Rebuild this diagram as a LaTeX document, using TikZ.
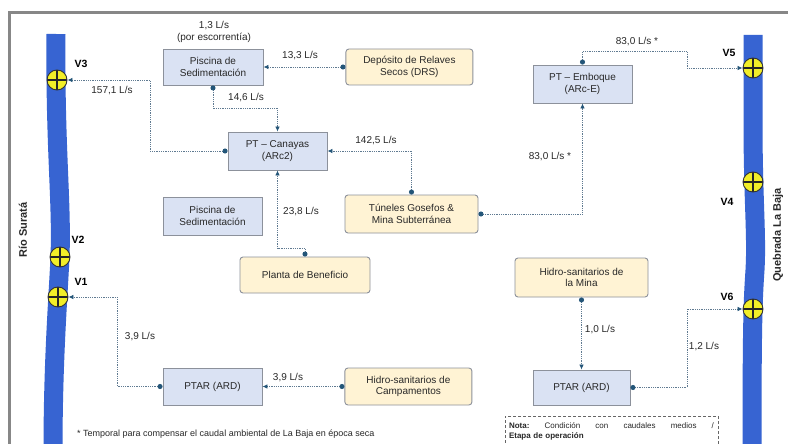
\documentclass[tikz,border=0pt]{standalone}
\usepackage{fontspec}
\setmainfont{Liberation Sans}
\usepackage{tikz}
\usetikzlibrary{positioning,arrows.meta,calc}
\definecolor{boxblue}{RGB}{218,226,243}
\definecolor{boxyellow}{RGB}{255,243,212}
\definecolor{boxedge}{RGB}{140,145,155}
\definecolor{flowgray}{RGB}{95,122,145}
\definecolor{flowdot}{RGB}{35,85,120}
\definecolor{riverblue}{RGB}{55,100,210}
\definecolor{valveyellow}{RGB}{242,238,40}
\definecolor{textgray}{RGB}{40,40,40}
\definecolor{framegray}{RGB}{135,135,135}
\tikzset{
  blue-node/.style={draw=boxedge, line width=0.9pt, fill=boxblue, minimum width=99pt,
    minimum height=37pt, font=\fontsize{10}{11.5}\selectfont, align=center,
    text=textgray, inner sep=2pt},
  yellow-node/.style={blue-node, fill=boxyellow, rounded corners=3pt},
  flow-arrow/.style={{Circle[length=5pt, color=flowdot]}-{Latex[length=5pt, width=4.5pt, color=flowdot]},
    line width=0.8pt, draw=flowgray, densely dotted},
  flow-label/.style={font=\fontsize{10}{12}\selectfont, text=textgray, inner sep=1pt, align=center},
  valve-node/.style={circle, draw=black!80, fill=valveyellow, minimum size=20pt, inner sep=0pt,
    line width=0.9pt, path picture={
      \draw[black!85, line width=1.2pt]
        (path picture bounding box.north) -- (path picture bounding box.south)
        (path picture bounding box.west) -- (path picture bounding box.east);}},
  valve-label/.style={font=\fontsize{10.5}{12}\selectfont\bfseries, text={RGB:red,30;green,35;blue,60}},
  river-line/.style={draw=riverblue, line width=19pt},
  river-label/.style={font=\fontsize{11}{13}\selectfont\bfseries, text=textgray, rotate=90},
  note-box/.style={draw=black!60, densely dashed, line width=0.6pt, fill=white, align=left,
    font=\fontsize{8}{10}\selectfont, text=textgray, inner sep=4pt, minimum height=30pt},
  footnote-text/.style={font=\fontsize{9}{10}\selectfont, text=textgray, inner sep=0pt},
  frame-line/.style={draw=framegray, line width=3pt}
}
\begin{document}
\begin{tikzpicture}[x=1pt, y=-1pt]
\path[use as bounding box, fill=white] (0,0) rectangle (788,444);
\draw[frame-line] (9,13) rectangle (800,460);

% Rivers
\draw[river-line] (56,34) .. controls (55,150) and (62,200) .. (60,257)
  .. controls (58,300) and (53,360) .. (53,452);
\draw[river-line] (753,35) -- (753,120) .. controls (753,200) and (757,235) .. (755,270)
  .. controls (753,300) and (752,320) .. (752,452);
\node[river-label] (surata) at (23,230) {Río Suratá};
\node[river-label] (labaja) at (778,235) {Quebrada La Baja};

% Vertimientos
\node[valve-node] (v3) at (57,80) {};
\node[valve-node] (v2) at (60,257) {};
\node[valve-node] (v1) at (58,297) {};
\node[valve-node] (v5) at (753,68) {};
\node[valve-node] (v4) at (753,182) {};
\node[valve-node] (v6) at (753,309) {};
\node[valve-label] (lbl-v3) at (81,64) {V3};
\node[valve-label] (lbl-v2) at (78,240) {V2};
\node[valve-label] (lbl-v1) at (81,282) {V1};
\node[valve-label] (lbl-v5) at (729,53) {V5};
\node[valve-label] (lbl-v4) at (727,202) {V4};
\node[valve-label] (lbl-v6) at (727,297) {V6};

% Units
\node[blue-node, minimum width=100pt, minimum height=36pt] (pisc-top) at (213,67) {Piscina de\\Sedimentación};
\node[yellow-node, minimum width=127pt, minimum height=36pt, right=82pt of pisc-top] (drs) {Depósito de Relaves\\Secos (DRS)};
\node[blue-node, minimum height=38pt] (canayas) at (277.5,151) {PT – Canayas\\(ARc2)};
\node[blue-node, minimum height=38pt] (emboque) at (582.5,84) {PT – Emboque\\(ARc-E)};
\node[yellow-node, minimum width=133pt, minimum height=38pt] (tuneles) at (411.5,214) {Túneles Gosefos \&\\Mina Subterránea};
\node[blue-node, minimum height=38pt] (pisc-mid) at (212.5,216) {Piscina de\\Sedimentación};
\node[yellow-node, minimum width=130pt, minimum height=36pt] (planta) at (305,275) {Planta de Beneficio};
\node[yellow-node, minimum width=133pt, minimum height=39pt] (hmina) at (581.5,277.5) {Hidro-sanitarios de\\la Mina};
\node[blue-node, minimum height=37pt] (ptar-left) at (212.5,386.5) {PTAR (ARD)};
\node[yellow-node, minimum width=127pt, minimum height=37pt, right=82pt of ptar-left] (hcamp) {Hidro-sanitarios de\\Campamentos};
\node[blue-node, minimum width=97pt, minimum height=35pt] (ptar-right) at (581.5,387.5) {PTAR (ARD)};

% Bends
\coordinate (bend-v3) at (150,80);
\coordinate (bend-v5) at (687,68);
\coordinate (bend-v1) at (117,297);
\coordinate (bend-v6) at (687,309);

% Flows
\draw[flow-arrow] (drs.west) -- (pisc-top.east);
\draw[flow-arrow] (pisc-top.south) -- ++(0,23) -| (canayas.north);
\draw[flow-arrow] (canayas.west) -| (bend-v3) -- (v3);
\draw[flow-arrow] (tuneles.north) |- (canayas.east);
\draw[flow-arrow] (tuneles.east) -| (emboque.south);
\draw[flow-arrow] (emboque.north) -- ++(0,-13) -| (bend-v5) -- (v5);
\draw[flow-arrow] (planta.north) -- ++(0,-8) -| (canayas.south);
\draw[flow-arrow] (ptar-left.west) -| (bend-v1) -- (v1);
\draw[flow-arrow] (hcamp.west) -- (ptar-left.east);
\draw[flow-arrow] (hmina.south) -- (ptar-right.north);
\draw[flow-arrow] (ptar-right.east) -| (bend-v6) -- (v6);

% Caudales
\node[flow-label] (q-esc) at (214,32) {1,3 L/s\\(por escorrentía)};
\node[flow-label] (q-drs) at (300,56) {13,3 L/s};
\node[flow-label] (q-pisc) at (246,98) {14,6 L/s};
\node[flow-label] (q-v3) at (112,91) {157,1 L/s};
\node[flow-label] (q-tun) at (376,141) {142,5 L/s};
\node[flow-label] (q-emb) at (550,157) {83,0 L/s *};
\node[flow-label] (q-v5) at (637,42) {83,0 L/s *};
\node[flow-label] (q-pla) at (301,212) {23,8 L/s};
\node[flow-label] (q-v1) at (140,337) {3,9 L/s};
\node[flow-label] (q-camp) at (288,378) {3,9 L/s};
\node[flow-label] (q-mina) at (600,330) {1,0 L/s};
\node[flow-label] (q-v6) at (704,347) {1,2 L/s};

% Notes
\node[note-box, text width=205pt] (note) at (611.5,431)
  {\textbf{Nota:}\hfill Condición\hfill con\hfill caudales\hfill medios\hfill /\\\textbf{Etapa de operación}};
\node[footnote-text, anchor=west] (footnote) at (77,434)
  {* Temporal para compensar el caudal ambiental de La Baja en época seca};
\end{tikzpicture}
\end{document}
